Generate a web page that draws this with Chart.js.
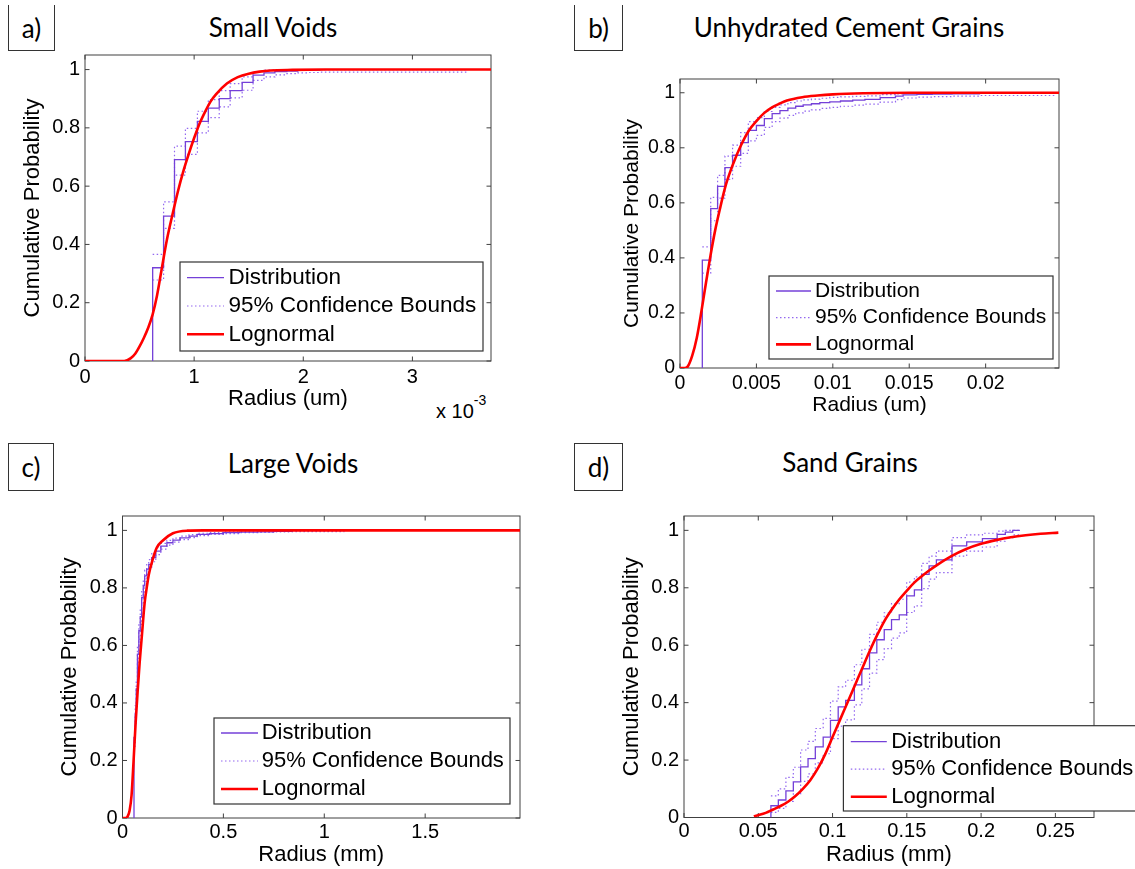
<!DOCTYPE html>
<html lang="en">
<head>
<meta charset="utf-8">
<title>Cumulative size distributions</title>
<script src="https://cdn.jsdelivr.net/npm/chart.js@4.4.1/dist/chart.umd.min.js"></script>
<style>
  html, body { margin: 0; padding: 0; background: #fff; }
  body { position: relative; width: 1135px; height: 869px; overflow: hidden; }
  canvas { position: absolute; }
  .tag {
    position: absolute; box-sizing: border-box; border: 1.4px solid #333;
    display: flex; align-items: center; justify-content: center;
    font: 26px Lato, "Open Sans", sans-serif; color: #000;
  }
  .tag.cut { border-top: none; }
  .title {
    position: absolute; white-space: nowrap; transform: translateX(-50%);
    font: 26px/1 Lato, "Open Sans", sans-serif; color: #000;
  }
  .scale-note {
    position: absolute; white-space: nowrap;
    font: 20px/1 "Liberation Sans", Arial, sans-serif; color: #000;
  }
  .scale-note sup { font-size: 14px; position: relative; top: -13px; vertical-align: baseline; }
</style>
</head>
<body>
<div class="tag cut" style="left:8px;top:5px;width:47px;height:46px">a)</div>
<div class="tag cut" style="left:574px;top:5px;width:49px;height:46px">b)</div>
<div class="tag" style="left:8px;top:443px;width:46px;height:48px">c)</div>
<div class="tag" style="left:574px;top:443px;width:49px;height:48px">d)</div>

<div class="title" style="left:273px;top:14px">Small Voids</div>
<div class="title" style="left:849px;top:14px">Unhydrated Cement Grains</div>
<div class="title" style="left:293px;top:450px">Large Voids</div>
<div class="title" style="left:850px;top:449px">Sand Grains</div>

<div class="scale-note" style="left:436px;top:401px">x 10<sup>-3</sup></div>

<canvas id="smallVoids" width="567" height="434" style="left:0;top:0"></canvas>
<canvas id="cementGrains" width="568" height="434" style="left:567px;top:0"></canvas>
<canvas id="largeVoids" width="567" height="435" style="left:0;top:434px"></canvas>
<canvas id="sandGrains" width="568" height="435" style="left:567px;top:434px"></canvas>

<script>
// ---- data -------------------------------------------------------------

const legendLabels = ["Distribution", "95% Confidence Bounds", "Lognormal"];
const probTicks = [0, 0.2, 0.4, 0.6, 0.8, 1];

// a) Small Voids, radius in um
const smallVoidsTicks = [0, 0.001, 0.002, 0.003];
const smallVoidsStepX = [0.00062, 0.00072, 0.00082, 0.00092, 0.00103, 0.00113, 0.00123, 0.00133, 0.00144, 0.00154, 0.00164, 0.00174, 0.00185, 0.00195, 0.00205, 0.00215];
const smallVoidsDist = [0.32, 0.497, 0.691, 0.753, 0.822, 0.868, 0.9, 0.928, 0.956, 0.981, 0.989, 0.993, 0.995, 0.997, 0.998, 0.999];
const smallVoidsBoundX = [0.00062, 0.00072, 0.00082, 0.00092, 0.00103, 0.00113, 0.00123, 0.00133, 0.00144, 0.00154, 0.00164, 0.00174, 0.00185, 0.00195, 0.00205, 0.00215, 0.0035];
const smallVoidsUpper = [0.366, 0.546, 0.737, 0.798, 0.857, 0.897, 0.928, 0.952, 0.975, 0.993, 0.998, 1, 1, 1, 1, 1, 1];
const smallVoidsLower = [0.278, 0.455, 0.638, 0.709, 0.783, 0.835, 0.872, 0.903, 0.929, 0.963, 0.975, 0.982, 0.986, 0.989, 0.99, 0.991, 0.991];
const smallVoidsFitX = [0, 0.00036, 0.00042, 0.00046, 0.0005, 0.00054, 0.00058, 0.00062, 0.00066, 0.0007, 0.00075, 0.0008, 0.00085, 0.0009, 0.00095, 0.001, 0.00105, 0.0011, 0.00115, 0.0012, 0.0013, 0.0014, 0.0015, 0.0016, 0.0017, 0.0019, 0.0022, 0.00372];
const smallVoidsFitY = [0, 0, 0.01, 0.025, 0.05, 0.08, 0.115, 0.16, 0.225, 0.31, 0.415, 0.5, 0.58, 0.65, 0.71, 0.765, 0.815, 0.855, 0.89, 0.915, 0.952, 0.974, 0.986, 0.993, 0.997, 0.999, 1, 1];

// b) Unhydrated Cement Grains, radius in um
const cementTicks = [0, 0.005, 0.01, 0.015, 0.02];
const cementStepX = [0.00146, 0.00201, 0.00246, 0.00294, 0.00344, 0.00397, 0.00447, 0.005, 0.00552, 0.00603, 0.00654, 0.00706, 0.00757, 0.00806, 0.0086, 0.00915, 0.0098, 0.0105, 0.0113, 0.0121, 0.0131, 0.0141, 0.0146, 0.0155, 0.0165, 0.0178, 0.0196];
const cementDist = [0.392, 0.579, 0.66, 0.728, 0.773, 0.819, 0.863, 0.881, 0.906, 0.924, 0.935, 0.944, 0.951, 0.956, 0.96, 0.964, 0.967, 0.97, 0.973, 0.976, 0.982, 0.988, 0.992, 0.994, 0.995, 0.996, 0.997];
const cementBoundX = [0.00146, 0.00201, 0.00246, 0.00294, 0.00344, 0.00397, 0.00447, 0.005, 0.00552, 0.00603, 0.00654, 0.00706, 0.00757, 0.00806, 0.0086, 0.00915, 0.0098, 0.0105, 0.0113, 0.0121, 0.0131, 0.0141, 0.0146, 0.0155, 0.0165, 0.0178, 0.0196, 0.0245];
const cementUpper = [0.44, 0.62, 0.7, 0.77, 0.81, 0.855, 0.895, 0.91, 0.932, 0.947, 0.956, 0.964, 0.97, 0.974, 0.977, 0.98, 0.983, 0.985, 0.987, 0.989, 0.993, 0.996, 0.998, 0.999, 0.999, 1, 1, 1];
const cementLower = [0.345, 0.535, 0.617, 0.685, 0.733, 0.78, 0.825, 0.845, 0.874, 0.895, 0.908, 0.918, 0.927, 0.933, 0.938, 0.943, 0.947, 0.951, 0.955, 0.959, 0.966, 0.975, 0.981, 0.984, 0.986, 0.988, 0.99, 0.99];
const cementFitX = [0, 0.0003, 0.0005, 0.0008, 0.0011, 0.0014, 0.0017, 0.002, 0.0023, 0.0026, 0.003, 0.0035, 0.004, 0.0045, 0.005, 0.0055, 0.006, 0.0065, 0.007, 0.008, 0.009, 0.01, 0.012, 0.015, 0.0248];
const cementFitY = [0, 0, 0.005, 0.045, 0.11, 0.205, 0.31, 0.41, 0.5, 0.575, 0.665, 0.745, 0.81, 0.862, 0.897, 0.926, 0.946, 0.96, 0.972, 0.984, 0.99, 0.994, 0.998, 1, 1];

// c) Large Voids, radius in mm
const largeVoidsTicks = [0, 0.5, 1, 1.5];
const largeVoidsStepX = [0.057, 0.063, 0.068, 0.074, 0.081, 0.088, 0.095, 0.103, 0.11, 0.12, 0.13, 0.145, 0.165, 0.19, 0.22, 0.25, 0.285, 0.33, 0.37, 0.43, 0.5, 0.58, 0.67, 0.75, 0.84];
const largeVoidsDist = [0.28, 0.36, 0.449, 0.57, 0.651, 0.7, 0.766, 0.807, 0.842, 0.865, 0.882, 0.905, 0.928, 0.945, 0.957, 0.966, 0.974, 0.98, 0.986, 0.989, 0.992, 0.994, 0.995, 0.997, 0.998];
const largeVoidsBoundX = [0.057, 0.063, 0.068, 0.074, 0.081, 0.088, 0.095, 0.103, 0.11, 0.12, 0.13, 0.145, 0.165, 0.19, 0.22, 0.25, 0.285, 0.33, 0.37, 0.43, 0.5, 0.58, 0.67, 0.75, 0.84, 1.1];
const largeVoidsUpper = [0.31, 0.39, 0.48, 0.6, 0.68, 0.727, 0.79, 0.829, 0.862, 0.883, 0.898, 0.919, 0.94, 0.955, 0.965, 0.973, 0.98, 0.985, 0.99, 0.992, 0.995, 0.996, 0.997, 0.998, 0.999, 0.999];
const largeVoidsLower = [0.25, 0.33, 0.418, 0.54, 0.622, 0.673, 0.742, 0.785, 0.822, 0.847, 0.866, 0.891, 0.916, 0.935, 0.949, 0.959, 0.968, 0.975, 0.982, 0.986, 0.989, 0.992, 0.993, 0.995, 0.996, 0.996];
const largeVoidsFitX = [0, 0.015, 0.025, 0.035, 0.045, 0.055, 0.065, 0.075, 0.085, 0.095, 0.11, 0.12, 0.13, 0.15, 0.17, 0.2, 0.25, 0.32, 0.4, 1.97];
const largeVoidsFitY = [0, 0, 0.005, 0.025, 0.08, 0.2, 0.33, 0.44, 0.54, 0.625, 0.75, 0.8, 0.845, 0.9, 0.94, 0.965, 0.99, 0.999, 1, 1];

// d) Sand Grains, radius in mm
const sandTicks = [0, 0.05, 0.1, 0.15, 0.2, 0.25];
const sandStepX = [0.0585, 0.0635, 0.0686, 0.0736, 0.0785, 0.0835, 0.0884, 0.0937, 0.0986, 0.1038, 0.1088, 0.1147, 0.1197, 0.1249, 0.1298, 0.1348, 0.1397, 0.1449, 0.1499, 0.1551, 0.16, 0.165, 0.1699, 0.1804, 0.1903, 0.2009, 0.2108, 0.2163, 0.2213, 0.2261];
const sandDist = [0.041, 0.061, 0.093, 0.124, 0.176, 0.205, 0.246, 0.28, 0.338, 0.385, 0.408, 0.462, 0.518, 0.573, 0.619, 0.654, 0.689, 0.706, 0.772, 0.793, 0.847, 0.876, 0.897, 0.946, 0.96, 0.971, 0.986, 0.994, 1, 1];
const sandBoundX = sandStepX;
const sandUpper = [0.075, 0.1, 0.14, 0.175, 0.235, 0.265, 0.31, 0.345, 0.405, 0.455, 0.478, 0.532, 0.586, 0.638, 0.68, 0.713, 0.745, 0.76, 0.82, 0.838, 0.885, 0.91, 0.928, 0.975, 0.984, 0.99, 0.997, 1, 1, 1];
const sandLower = [0.018, 0.032, 0.056, 0.082, 0.126, 0.152, 0.19, 0.222, 0.275, 0.318, 0.34, 0.392, 0.448, 0.503, 0.55, 0.588, 0.625, 0.643, 0.714, 0.737, 0.797, 0.83, 0.853, 0.91, 0.928, 0.942, 0.962, 0.974, 0.984, 0.988];
const sandFitX = [0.047, 0.05, 0.055, 0.06, 0.065, 0.07, 0.075, 0.08, 0.085, 0.09, 0.095, 0.1, 0.105, 0.11, 0.115, 0.12, 0.125, 0.13, 0.135, 0.14, 0.145, 0.15, 0.155, 0.16, 0.165, 0.17, 0.18, 0.19, 0.2, 0.21, 0.22, 0.23, 0.24, 0.252];
const sandFitY = [0.004, 0.008, 0.016, 0.028, 0.04, 0.055, 0.075, 0.1, 0.13, 0.17, 0.22, 0.28, 0.34, 0.4, 0.46, 0.52, 0.58, 0.635, 0.685, 0.725, 0.76, 0.79, 0.818, 0.84, 0.86, 0.878, 0.91, 0.935, 0.953, 0.966, 0.976, 0.983, 0.988, 0.992];

// ---- styling ----------------------------------------------------------

const sansFont = '"Liberation Sans", Arial, sans-serif';
const distColor = "#7440d8";
const boundColor = "#9368f0";
const fitColor = "#ff0000";
const axisColor = "#404040";

Chart.defaults.font.family = sansFont;
Chart.defaults.color = "#000";

// MATLAB style box with inward ticks on all four sides
const matlabAxes = {
  id: "matlabAxes",
  beforeDatasetsDraw(chart) {
    const { ctx, chartArea: a, scales } = chart;
    const len = 4.5;
    ctx.save();
    ctx.strokeStyle = axisColor;
    ctx.lineWidth = 1;
    ctx.beginPath();
    scales.x.ticks.forEach((t) => {
      const px = scales.x.getPixelForValue(t.value);
      ctx.moveTo(px, a.bottom);
      ctx.lineTo(px, a.bottom - len);
      ctx.moveTo(px, a.top);
      ctx.lineTo(px, a.top + len);
    });
    scales.y.ticks.forEach((t) => {
      const py = scales.y.getPixelForValue(t.value);
      ctx.moveTo(a.left, py);
      ctx.lineTo(a.left + len, py);
      ctx.moveTo(a.right, py);
      ctx.lineTo(a.right - len, py);
    });
    ctx.stroke();
    ctx.strokeRect(a.left, a.top, a.right - a.left, a.bottom - a.top);
    ctx.restore();
  },
};

// boxed legend placed inside the plot, like the MATLAB one
const boxLegend = {
  id: "boxLegend",
  afterDraw(chart, args, opts) {
    const { ctx } = chart;
    const b = opts.box;
    ctx.save();
    ctx.fillStyle = "#fff";
    ctx.fillRect(b.left, b.top, b.width, b.height);
    ctx.strokeStyle = "#333";
    ctx.lineWidth = 1.2;
    ctx.strokeRect(b.left, b.top, b.width, b.height);
    ctx.font = `${opts.fontSize}px ${sansFont}`;
    ctx.textBaseline = "middle";
    legendLabels.forEach((label, i) => {
      const ds = chart.data.datasets.find((d) => d.label === label);
      const y = b.top + opts.firstRow + i * opts.rowGap;
      ctx.strokeStyle = ds.borderColor;
      ctx.lineWidth = ds.borderWidth;
      ctx.setLineDash(ds.borderDash || []);
      ctx.beginPath();
      ctx.moveTo(b.left + opts.lineFrom, y);
      ctx.lineTo(b.left + opts.lineTo, y);
      ctx.stroke();
      ctx.setLineDash([]);
      ctx.fillStyle = "#000";
      ctx.fillText(label, b.left + opts.textX, y);
    });
    ctx.restore();
  },
};

function points(xs, ys) {
  return xs.map((x, i) => ({ x, y: ys[i] }));
}

const panels = [
  {
    id: "smallVoids", left: 0, top: 0, width: 567, height: 434,
    area: { left: 85, top: 55, right: 491, bottom: 361 },
    xMax: 0.00372, xTicks: smallVoidsTicks, xFormat: (v) => String(Math.round(v * 1000)),
    xTitle: "Radius (um)", yTitleX: 33, xTitleY: 399, xTickGap: 16, tickSize: 20, titleSize: 22,
    legend: { box: { left: 180, top: 262, width: 303, height: 89 }, firstRow: 15.7, rowGap: 28.3, fontSize: 22.5, lineFrom: 7, lineTo: 44, textX: 48.5 },
    stepX: smallVoidsStepX, dist: smallVoidsDist, boundX: smallVoidsBoundX, upper: smallVoidsUpper, lower: smallVoidsLower, fitX: smallVoidsFitX, fitY: smallVoidsFitY,
  },
  {
    id: "cementGrains", left: 567, top: 0, width: 568, height: 434,
    area: { left: 680, top: 79, right: 1059, bottom: 368 },
    xMax: 0.0248, xTicks: cementTicks, xFormat: (v) => String(v),
    xTitle: "Radius (um)", yTitleX: 632, xTitleY: 405, xTickGap: 15.3, tickSize: 19.5, titleSize: 21,
    legend: { box: { left: 769, top: 276, width: 284, height: 83 }, firstRow: 15, rowGap: 26.7, fontSize: 21, lineFrom: 7, lineTo: 42, textX: 46 },
    stepX: cementStepX, dist: cementDist, boundX: cementBoundX, upper: cementUpper, lower: cementLower, fitX: cementFitX, fitY: cementFitY,
  },
  {
    id: "largeVoids", left: 0, top: 434, width: 567, height: 435,
    area: { left: 122.5, top: 516, right: 520, bottom: 818 },
    xMax: 1.97, xTicks: largeVoidsTicks, xFormat: (v) => String(v),
    xTitle: "Radius (mm)", yTitleX: 70, xTitleY: 855, xTickGap: 14, tickSize: 20, titleSize: 22,
    legend: { box: { left: 214, top: 718, width: 296, height: 86 }, firstRow: 15, rowGap: 28, fontSize: 22, lineFrom: 7, lineTo: 44, textX: 47.7 },
    stepX: largeVoidsStepX, dist: largeVoidsDist, boundX: largeVoidsBoundX, upper: largeVoidsUpper, lower: largeVoidsLower, fitX: largeVoidsFitX, fitY: largeVoidsFitY,
  },
  {
    id: "sandGrains", left: 567, top: 434, width: 568, height: 435,
    area: { left: 684, top: 516, right: 1094, bottom: 817.5 },
    xMax: 0.276, xTicks: sandTicks, xFormat: (v) => String(v),
    xTitle: "Radius (mm)", yTitleX: 632, xTitleY: 855, xTickGap: 14.2, tickSize: 20, titleSize: 22,
    legend: { box: { left: 843.4, top: 725.7, width: 300, height: 85.3 }, firstRow: 16, rowGap: 27.5, fontSize: 22, lineFrom: 7.4, lineTo: 43.4, textX: 47.8 },
    stepX: sandStepX, dist: sandDist, boundX: sandBoundX, upper: sandUpper, lower: sandLower, fitX: sandFitX, fitY: sandFitY,
  },
];

function renderPanel(p) {
  const canvas = document.getElementById(p.id);
  const yAxisWidth = p.area.left - p.left;
  const xAxisHeight = p.top + p.height - p.area.bottom;
  const tickFont = { family: sansFont, size: p.tickSize };
  const titleFont = { family: sansFont, size: p.titleSize };
  const lg = p.legend;
  const legendOpts = Object.assign({}, lg, {
    box: { left: lg.box.left - p.left, top: lg.box.top - p.top, width: lg.box.width, height: lg.box.height },
  });

  const common = { showLine: true, pointRadius: 0, pointHoverRadius: 0, fill: false };

  return new Chart(canvas, {
    type: "scatter",
    data: {
      datasets: [
        Object.assign({}, common, {
          label: "Lognormal",
          data: points(p.fitX, p.fitY),
          borderColor: fitColor,
          borderWidth: 2.6,
          cubicInterpolationMode: "monotone",
          order: 0,
        }),
        Object.assign({}, common, {
          label: "Distribution",
          data: [{ x: p.stepX[0], y: 0 }].concat(points(p.stepX, p.dist)),
          borderColor: distColor,
          borderWidth: 1.3,
          stepped: true,
          order: 1,
        }),
        Object.assign({}, common, {
          label: "95% Confidence Bounds",
          data: points(p.boundX, p.upper),
          borderColor: boundColor,
          borderWidth: 1.2,
          borderDash: [1.5, 2.5],
          stepped: true,
          order: 2,
        }),
        Object.assign({}, common, {
          label: "95% Confidence Bounds",
          data: points(p.boundX, p.lower),
          borderColor: boundColor,
          borderWidth: 1.2,
          borderDash: [1.5, 2.5],
          stepped: true,
          order: 2,
        }),
      ],
    },
    options: {
      responsive: false,
      animation: false,
      events: [],
      layout: {
        padding: { left: 0, bottom: 0, top: p.area.top - p.top, right: p.left + p.width - p.area.right },
      },
      plugins: {
        legend: { display: false },
        tooltip: { enabled: false },
        boxLegend: legendOpts,
      },
      scales: {
        x: {
          type: "linear",
          min: 0,
          max: p.xMax,
          grid: { display: false, drawTicks: false },
          border: { display: false },
          afterBuildTicks: (s) => { s.ticks = p.xTicks.map((v) => ({ value: v })); },
          afterFit: (s) => { s.height = xAxisHeight; },
          ticks: {
            font: tickFont,
            color: "#000",
            maxRotation: 0,
            autoSkip: false,
            padding: p.xTickGap - p.tickSize * 0.6,
            callback: (v) => p.xFormat(v),
          },
          title: {
            display: true,
            text: p.xTitle,
            font: titleFont,
            color: "#000",
            padding: { top: 0, bottom: p.top + p.height - p.xTitleY - p.titleSize * 0.6 },
          },
        },
        y: {
          type: "linear",
          min: 0,
          max: 1.05,
          grid: { display: false, drawTicks: false },
          border: { display: false },
          afterBuildTicks: (s) => { s.ticks = probTicks.map((v) => ({ value: v })); },
          afterFit: (s) => { s.width = yAxisWidth; },
          ticks: {
            font: tickFont,
            color: "#000",
            padding: 5,
            callback: (v) => String(v),
          },
          title: {
            display: true,
            text: "Cumulative Probability",
            font: titleFont,
            color: "#000",
            padding: { top: p.yTitleX - p.left - p.titleSize * 0.6, bottom: 0 },
          },
        },
      },
    },
    plugins: [matlabAxes, boxLegend],
  });
}

panels.forEach(renderPanel);
</script>
</body>
</html>
